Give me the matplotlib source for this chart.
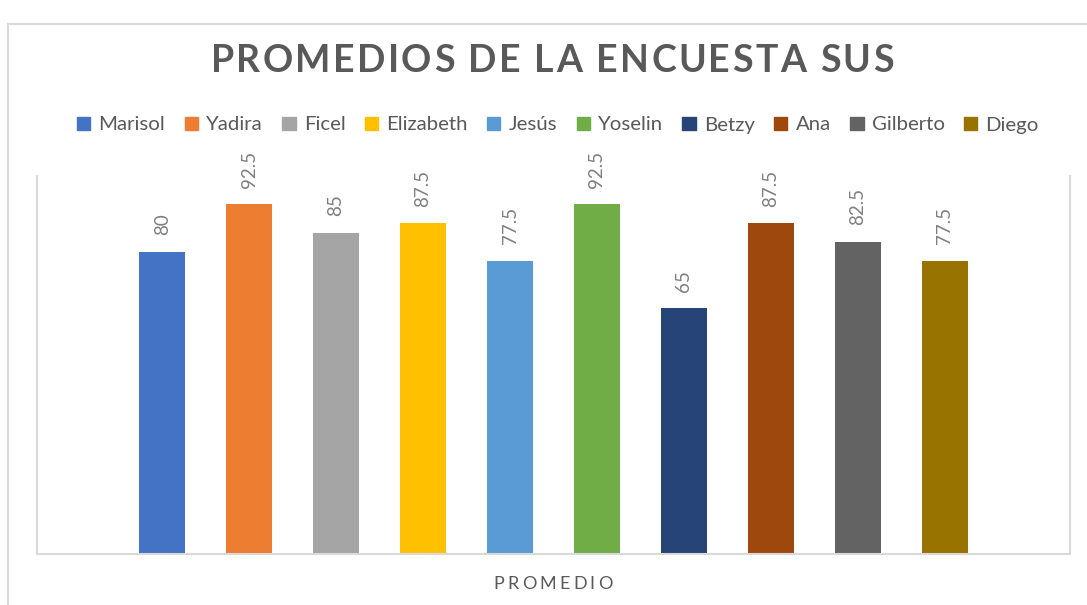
import numpy as np
import matplotlib
matplotlib.use('Agg')
import matplotlib.pyplot as plt
from matplotlib import font_manager
from matplotlib.ft2font import FT2Font
from matplotlib.patches import Rectangle
from matplotlib.lines import Line2D

names = ['Marisol', 'Yadira', 'Ficel', 'Elizabeth', 'Jesús', 'Yoselin',
         'Betzy', 'Ana', 'Gilberto', 'Diego']
promedios = [80, 92.5, 85, 87.5, 77.5, 92.5, 65, 87.5, 82.5, 77.5]
colores = ['#4472C4', '#ED7D31', '#A5A5A5', '#FFC000', '#5B9BD5',
           '#70AD47', '#264478', '#9E480E', '#636363', '#997300']
titulo = 'PROMEDIOS DE LA ENCUESTA SUS'
eje_x = 'PROMEDIO'

FONT = 'Lato'
GRIS = '#595959'
BORDE = '#d9d9d9'

W, H = 1087, 605
fig = plt.figure(figsize=(W / 100, H / 100), dpi=100)


def texto_espaciado(s, cx, y, ancho, size, weight='normal', color=GRIS):
    # letter-spaced text, centred at cx (pixels), baseline at y (pixels from top)
    prop = font_manager.FontProperties(family=FONT, weight=weight, size=size)
    ft = FT2Font(font_manager.findfont(prop))
    ft.set_size(size, fig.dpi)
    adv = [ft.load_char(ord(c)).linearHoriAdvance / 65536 for c in s]
    sep = (ancho - sum(adv)) / (len(s) - 1)
    x = cx - ancho / 2
    for c, a in zip(s, adv):
        fig.text(x / W, 1 - y / H, c, fontproperties=prop, color=color,
                 ha='left', va='baseline')
        x += a + sep


# chart frame
fig.add_artist(Line2D([8 / W, 8 / W], [0, 1 - 24 / H], color=BORDE, lw=1.5))
fig.add_artist(Line2D([8 / W, 1], [1 - 24 / H, 1 - 24 / H], color=BORDE, lw=1.5))

ax = fig.add_axes([37 / W, (H - 554) / H, (1070 - 37) / W, (554 - 176) / H])
x = np.arange(len(names))
barras = ax.bar(x, promedios, width=0.53, color=colores)
ax.bar_label(barras, labels=[f'{v:g}' for v in promedios], rotation=90,
             padding=12, color='#7f7f7f', fontsize=13.5, family=FONT)

ax.set_xlim(-1.44, len(names) - 1 + 1.44)
ax.set_ylim(0, 100)
ax.set_xticks([])
ax.set_yticks([])
ax.spines['top'].set_visible(False)
for lado in ['left', 'right', 'bottom']:
    ax.spines[lado].set_color(BORDE)
    ax.spines[lado].set_linewidth(1.5)

handles = [Rectangle((0, 0), 1, 1, color=c) for c in colores]
fig.legend(handles, names, loc='center', bbox_to_anchor=(558 / W, 1 - 125 / H),
           ncol=len(names), frameon=False, prop={'family': FONT, 'size': 14.7},
           labelcolor=GRIS, handlelength=0.65, handleheight=0.65,
           handletextpad=0.4, columnspacing=0.95, borderpad=0)

texto_espaciado(titulo, 552, 72, 683, 27, weight='bold')
texto_espaciado(eje_x, 553, 589, 119, 13)

fig.savefig('out.png', dpi=100)
